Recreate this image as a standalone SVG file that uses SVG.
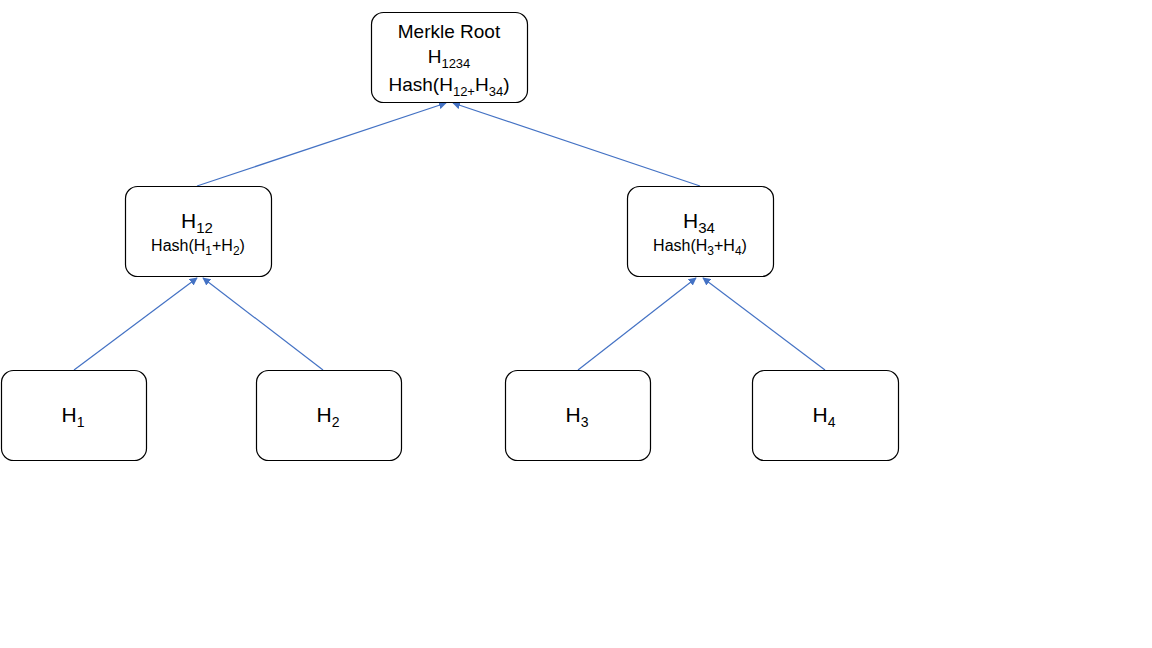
<svg xmlns="http://www.w3.org/2000/svg" width="1152" height="648" viewBox="0 0 1152 648">
<defs>
<style>
.box{fill:#fff;stroke:#000;stroke-width:1.2}
.t{font-family:"Liberation Sans",Arial,sans-serif;fill:#000;text-anchor:middle}
.big{font-size:21px}
.mid{font-size:19px}
.sub{font-size:13px}
.c{stroke:#4472C4;stroke-width:1.2;fill:none;marker-end:url(#ah)}
</style>
<marker id="ah" viewBox="0 0 10 10" refX="9" refY="5" markerWidth="8" markerHeight="8" orient="auto" markerUnits="userSpaceOnUse">
<path d="M0,0 L10,5 L0,10 z" fill="#4472C4"/>
</marker>
</defs>
<rect width="1152" height="648" fill="#fff"/>
<g id="connectors">
<line class="c" x1="197" y1="186" x2="446" y2="103"/>
<line class="c" x1="700" y1="186" x2="453" y2="103"/>
<line class="c" x1="74" y1="370" x2="197" y2="278"/>
<line class="c" x1="323" y1="370" x2="203" y2="278"/>
<line class="c" x1="578" y1="370" x2="696" y2="278"/>
<line class="c" x1="825" y1="370" x2="703" y2="278"/>
</g>
<g id="root">
<rect class="box" x="371.5" y="12.5" width="156" height="90" rx="12"/>
<text class="t mid" x="449" y="38">Merkle Root</text>
<text class="t mid" x="449" y="63">H<tspan class="sub" dy="5">1234</tspan></text>
<text class="t mid" x="449" y="91">Hash(H<tspan class="sub" dy="5">12+</tspan><tspan dy="-5">H</tspan><tspan class="sub" dy="5">34</tspan><tspan dy="-5">)</tspan></text>
</g>
<g id="h12">
<rect class="box" x="125.5" y="186.5" width="146" height="90" rx="12"/>
<text class="t big" x="197" y="228">H<tspan dy="5" font-size="15px">12</tspan></text>
<text class="t" font-size="16px" x="198" y="251">Hash(H<tspan font-size="12px" dy="4">1</tspan><tspan dy="-4">+H</tspan><tspan font-size="12px" dy="4">2</tspan><tspan dy="-4">)</tspan></text>
</g>
<g id="h34">
<rect class="box" x="627.5" y="186.5" width="146" height="90" rx="12"/>
<text class="t big" x="699" y="228">H<tspan dy="5" font-size="15px">34</tspan></text>
<text class="t" font-size="16px" x="700" y="251">Hash(H<tspan font-size="12px" dy="4">3</tspan><tspan dy="-4">+H</tspan><tspan font-size="12px" dy="4">4</tspan><tspan dy="-4">)</tspan></text>
</g>
<g id="h1">
<rect class="box" x="1.5" y="370.5" width="145" height="90" rx="12"/>
<text class="t big" x="73" y="422">H<tspan dy="5" font-size="14px">1</tspan></text>
</g>
<g id="h2">
<rect class="box" x="256.5" y="370.5" width="145" height="90" rx="12"/>
<text class="t big" x="328" y="422">H<tspan dy="5" font-size="14px">2</tspan></text>
</g>
<g id="h3">
<rect class="box" x="505.5" y="370.5" width="145" height="90" rx="12"/>
<text class="t big" x="577" y="422">H<tspan dy="5" font-size="14px">3</tspan></text>
</g>
<g id="h4">
<rect class="box" x="752.5" y="370.5" width="146" height="90" rx="12"/>
<text class="t big" x="824" y="422">H<tspan dy="5" font-size="14px">4</tspan></text>
</g>
</svg>
